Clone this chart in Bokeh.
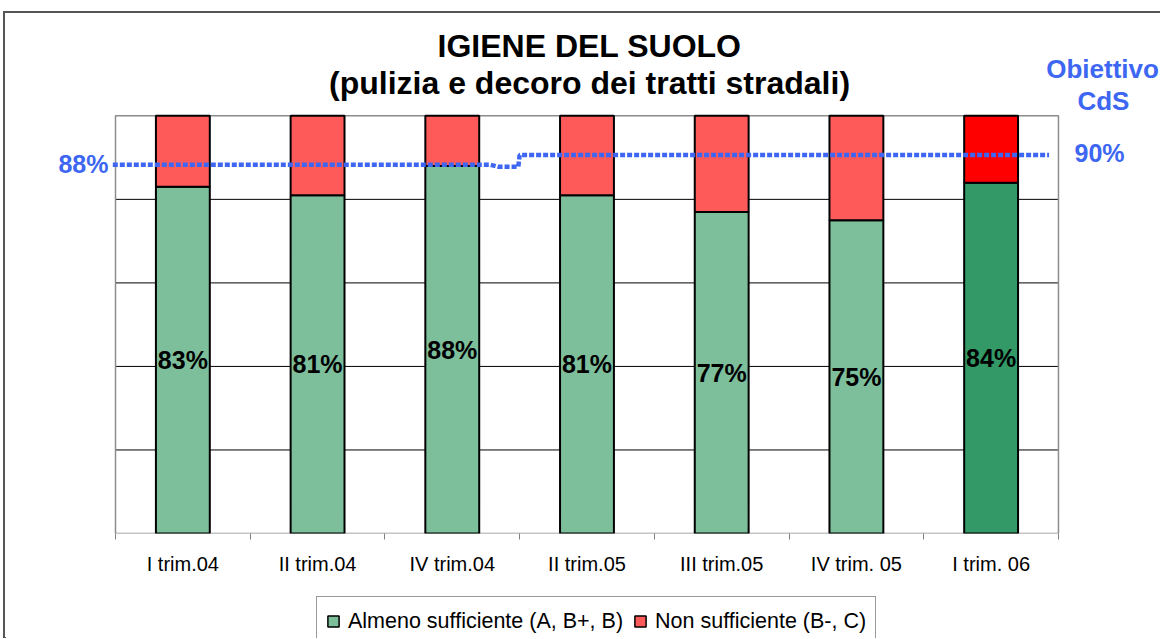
import numpy as np
from bokeh.plotting import figure
from bokeh.layouts import column
from bokeh.models import (Range1d, LinearAxis, FixedTicker, Label, Legend, LegendItem,
                          ColumnDataSource)
from bokeh.embed import file_html
from bokeh.resources import INLINE

# ---------------- data ----------------
categories = ["I trim.04", "II trim.04", "IV trim.04", "II trim.05",
              "III trim.05", "IV trim. 05", "I trim. 06"]
almeno = [83, 81, 88, 81, 77, 75, 84]          # Almeno sufficiente (A, B+, B)
non_suff = [17, 19, 12, 19, 23, 25, 16]        # Non sufficiente (B-, C)
green_colors = ["#7DBE9B"] * 6 + ["#339966"]
red_colors = ["#FF5A5A"] * 6 + ["#FF0000"]
grid_values = [20, 40, 60, 80]
# Obiettivo CdS line (x in category units, y in %)
target_x = [-0.02, 2.78, 2.84, 2.99, 3.0, 6.93]
target_y = [88.3, 88.3, 87.8, 87.8, 90.6, 90.6]

FONT = "Liberation Sans"
BLUE = "#3D66F2"

n = len(categories)
centers = [i + 0.5 for i in range(n)]
bounds = [float(i) for i in range(n + 1)]
green_top = np.array(almeno, dtype=float)
red_top = green_top + np.array(non_suff, dtype=float)

src = ColumnDataSource(dict(
    x=centers, g_top=green_top, r_top=red_top,
    g_col=green_colors, r_col=red_colors,
    lab_y=green_top / 2, lab=[f"{v}%" for v in almeno],
))

W = 1155
p = figure(width=W, height=576, x_range=Range1d(-0.8166, 7.7574), y_range=Range1d(0, 124.5),
           x_axis_type=None, y_axis_type=None, output_backend="svg",
           toolbar_location=None, min_border_left=0, min_border_right=0,
           min_border_top=0, min_border_bottom=56)
p.outline_line_color = None
p.background_fill_color = "white"
p.border_fill_color = "white"

# plot area: grid lines and frame
p.segment(x0=0, x1=n, y0=grid_values, y1=grid_values, line_color="black", line_width=1)
p.quad(left=0, right=n, bottom=0, top=100, fill_color=None,
       line_color="#8C8C8C", line_width=1.5)

xaxis = LinearAxis(ticker=FixedTicker(ticks=centers, minor_ticks=bounds),
                   major_label_overrides={c: lab for c, lab in zip(centers, categories)},
                   major_tick_line_color=None, major_tick_out=0, major_tick_in=0,
                   minor_tick_out=6, minor_tick_in=0, minor_tick_line_color="#808080",
                   axis_line_color=None,
                   major_label_text_font=FONT, major_label_text_font_size="20px",
                   major_label_text_color="black", major_label_standoff=13)
p.add_layout(xaxis, "below")

p.vbar(x="x", bottom=0, top="g_top", width=0.4, fill_color="g_col",
       line_color="black", line_width=2, source=src)
p.vbar(x="x", bottom="g_top", top="r_top", width=0.4, fill_color="r_col",
       line_color="black", line_width=2, source=src)

p.line(target_x, target_y, line_color=BLUE, line_width=4.5, line_dash="5 2")

p.text(x="x", y="lab_y", text="lab", source=src, text_align="center",
       text_baseline="middle", text_font_size="25px", text_font_style="bold",
       text_color="black", text_font={"value": FONT})

def lab(x, y, t, size, color="black", align="center"):
    p.add_layout(Label(x=x, y=y, text=t, text_font=FONT, text_font_size=size,
                       text_font_style="bold", text_color=color, text_align=align,
                       text_baseline="middle"))

lab(3.519, 116.8, "IGIENE DEL SUOLO", "32px")
lab(3.519, 107.9, "(pulizia e decoro dei tratti stradali)", "32px")
lab(7.327, 111.2, "Obiettivo", "26px", BLUE)
lab(7.334, 103.6, "CdS", "26px", BLUE)
lab(7.305, 91.1, "90%", "25px", BLUE)
lab(-0.052, 88.5, "88%", "25px", BLUE, "right")

# ---------------- legend strip ----------------
q = figure(width=W, height=49, x_range=Range1d(100, 101), y_range=Range1d(100, 101),
           x_axis_type=None, y_axis_type=None, output_backend="svg",
           toolbar_location=None, min_border_left=0, min_border_right=0,
           min_border_top=0, min_border_bottom=0)
q.outline_line_color = None
q.background_fill_color = "white"
q.border_fill_color = "white"
lg = q.vbar(x="x", bottom=0, top="g_top", width=0.4, fill_color="g_col",
            line_color="black", line_width=1.5, source=src)
lr = q.vbar(x="x", bottom="g_top", top="r_top", width=0.4, fill_color="r_col",
            line_color="black", line_width=1.5, source=src)
legend = Legend(items=[
    LegendItem(label="Almeno sufficiente (A, B+, B)", renderers=[lg], index=0),
    LegendItem(label="Non sufficiente (B-, C)", renderers=[lr], index=0),
], orientation="horizontal", location=(311, -8), glyph_width=14, glyph_height=14,
    label_standoff=8, spacing=10, padding=9, margin=0, label_height=30,
    label_text_font=FONT, label_text_font_size="21.5px", label_text_color="black",
    border_line_color="#333333", border_line_width=1,
    background_fill_color="white", background_fill_alpha=1)
q.add_layout(legend, "center")

layout = column(p, q, spacing=0)
layout.styles = {"margin-left": "3px", "margin-top": "11px",
                 "border-top": "2px solid #555555", "border-left": "2px solid #555555"}

open("out.html", "w").write(file_html(layout, INLINE))
